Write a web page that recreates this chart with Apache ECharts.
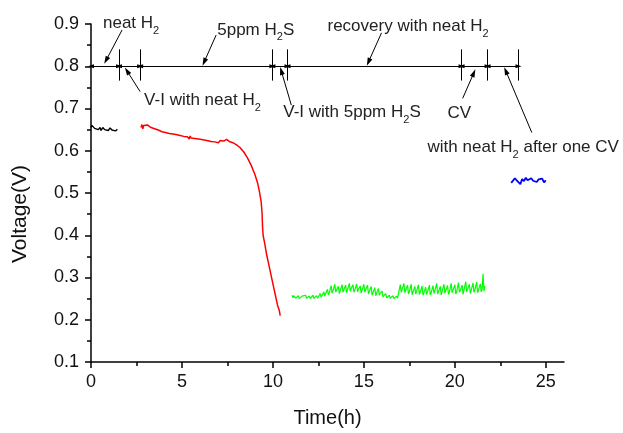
<!DOCTYPE html>
<html><head><meta charset="utf-8">
<script src="https://cdn.jsdelivr.net/npm/echarts@6/dist/echarts.min.js"></script>
<style>html,body{margin:0;padding:0;background:#fff}#c{width:623px;height:433px}</style>
</head><body><div id="c"></div>
<script>
// ---- axes ----
const xMajorTicks = [0, 5, 10, 15, 20, 25];
const xMinorTicks = [2.5, 7.5, 12.5, 17.5, 22.5];
const yMinorTicks = [0.15, 0.25, 0.35, 0.45, 0.55, 0.65, 0.75, 0.85];
const xRange = [0, 26];
const yRange = [0.1, 0.9];
const yStep = 0.1;

// ---- data: [time (h), voltage (V)] ----
const neatH2 = [[0,0.655],[0.05,0.66],[0.1,0.658],[0.2,0.653],[0.3,0.656],[0.4,0.65],[0.5,0.655],[0.55,0.648],[0.65,0.655],[0.75,0.65],[0.85,0.654],[0.95,0.648],[1.05,0.654],[1.15,0.649],[1.25,0.652],[1.35,0.647],[1.45,0.651]];
const withH2S = [[2.75,0.655],[2.8,0.662],[2.85,0.652],[2.9,0.66],[3.0,0.658],[3.1,0.661],[3.2,0.66],[3.3,0.655],[3.5,0.652],[3.6,0.648],[3.7,0.649],[3.9,0.645],[4.1,0.643],[4.3,0.641],[4.6,0.639],[4.9,0.636],[5.1,0.634],[5.3,0.633],[5.4,0.628],[5.45,0.635],[5.5,0.63],[5.7,0.629],[6.0,0.627],[6.3,0.625],[6.6,0.622],[6.8,0.621],[6.9,0.625],[7.0,0.619],[7.1,0.624],[7.2,0.62],[7.3,0.623],[7.45,0.627],[7.6,0.622],[7.8,0.619],[8.0,0.614],[8.2,0.607],[8.4,0.597],[8.6,0.583],[8.8,0.566],[9.0,0.545],[9.15,0.525],[9.25,0.505],[9.35,0.48],[9.4,0.455],[9.43,0.42],[9.46,0.4],[9.55,0.38],[9.65,0.355],[9.75,0.335],[9.85,0.315],[9.95,0.295],[10.05,0.275],[10.15,0.255],[10.25,0.235],[10.35,0.222],[10.4,0.21]];
const recovery = [[11.05,0.258],[11.1,0.252],[11.15,0.257],[11.2,0.259],[11.25,0.251],[11.3,0.253],[11.4,0.257],[11.45,0.25],[11.5,0.251],[11.6,0.256],[11.65,0.252],[11.7,0.254],[11.8,0.258],[11.85,0.251],[11.9,0.252],[12.0,0.256],[12.05,0.25],[12.1,0.253],[12.2,0.258],[12.25,0.251],[12.3,0.252],[12.4,0.257],[12.45,0.251],[12.5,0.254],[12.6,0.262],[12.65,0.253],[12.7,0.256],[12.8,0.266],[12.85,0.256],[12.9,0.262],[13.0,0.272],[13.05,0.259],[13.1,0.264],[13.2,0.281],[13.25,0.263],[13.3,0.268],[13.4,0.284],[13.45,0.266],[13.5,0.27],[13.6,0.279],[13.65,0.262],[13.7,0.266],[13.8,0.283],[13.85,0.265],[13.9,0.271],[14.0,0.282],[14.05,0.264],[14.1,0.268],[14.2,0.286],[14.25,0.267],[14.3,0.274],[14.4,0.283],[14.45,0.265],[14.5,0.27],[14.6,0.285],[14.65,0.266],[14.7,0.272],[14.8,0.28],[14.85,0.263],[14.9,0.267],[15.0,0.284],[15.05,0.265],[15.1,0.271],[15.2,0.282],[15.25,0.261],[15.3,0.265],[15.4,0.279],[15.45,0.258],[15.5,0.262],[15.6,0.276],[15.65,0.257],[15.7,0.26],[15.8,0.274],[15.85,0.258],[15.9,0.263],[16.0,0.268],[16.05,0.254],[16.1,0.258],[16.2,0.262],[16.25,0.252],[16.3,0.255],[16.4,0.258],[16.45,0.251],[16.5,0.253],[16.6,0.257],[16.65,0.25],[16.7,0.254],[16.8,0.256],[16.85,0.251],[16.9,0.262],[17.0,0.283],[17.05,0.265],[17.1,0.272],[17.2,0.286],[17.25,0.264],[17.3,0.27],[17.4,0.282],[17.45,0.261],[17.5,0.266],[17.6,0.284],[17.65,0.259],[17.7,0.262],[17.8,0.279],[17.85,0.261],[17.9,0.268],[18.0,0.283],[18.05,0.26],[18.1,0.265],[18.2,0.28],[18.25,0.258],[18.3,0.261],[18.4,0.277],[18.45,0.26],[18.5,0.266],[18.6,0.282],[18.65,0.259],[18.7,0.264],[18.8,0.281],[18.85,0.262],[18.9,0.268],[19.0,0.286],[19.05,0.261],[19.1,0.266],[19.2,0.279],[19.25,0.259],[19.3,0.262],[19.4,0.284],[19.45,0.263],[19.5,0.269],[19.6,0.281],[19.65,0.26],[19.7,0.265],[19.8,0.286],[19.85,0.264],[19.9,0.27],[20.0,0.283],[20.05,0.261],[20.1,0.266],[20.2,0.288],[20.25,0.265],[20.3,0.27],[20.4,0.282],[20.45,0.26],[20.5,0.264],[20.6,0.29],[20.65,0.266],[20.7,0.272],[20.8,0.284],[20.85,0.262],[20.9,0.266],[21.0,0.287],[21.05,0.265],[21.1,0.27],[21.2,0.289],[21.25,0.264],[21.3,0.268],[21.4,0.285],[21.45,0.266],[21.5,0.272],[21.55,0.309],[21.6,0.268],[21.65,0.28]];
const afterCV = [[23.1,0.524],[23.2,0.522],[23.3,0.535],[23.4,0.53],[23.5,0.526],[23.6,0.521],[23.7,0.533],[23.8,0.528],[23.9,0.536],[24.0,0.53],[24.1,0.527],[24.2,0.535],[24.3,0.529],[24.4,0.533],[24.5,0.526],[24.6,0.532],[24.7,0.528],[24.8,0.534],[24.9,0.525],[25.0,0.53]];

// ---- stage annotation (time boundaries, in h) ----
const stageBounds = [0, 1.54, 2.7, 9.97, 10.8, 20.37, 21.8, 23.5];
const stageLevel = 0.8;
const stageBar = [0.766, 0.84];

// ---- annotation labels: text, text anchor (data), arrow from, arrow to (data) ----
const annotations = [
  {text: 'neat H{s|2}',                  at: [0.66, 0.902],  from: [1.71, 0.886], to: [0.83, 0.814]},
  {text: '5ppm H{s|2}S',                 at: [6.94, 0.886],  from: [6.88, 0.874], to: [6.22, 0.810]},
  {text: 'V-I with neat H{s|2}',         at: [2.92, 0.720],  from: [2.70, 0.740], to: [1.98, 0.789]},
  {text: 'V-I with 5ppm H{s|2}S',        at: [10.57, 0.691], from: [11.01, 0.708], to: [10.46, 0.789]},
  {text: 'recovery with neat H{s|2}',    at: [13.0, 0.895],  from: [15.97, 0.879], to: [15.25, 0.810]},
  {text: 'CV',                           at: [19.6, 0.689],  from: [20.43, 0.724], to: [21.04, 0.784]},
  {text: 'with neat H{s|2} after one CV',at: [18.5, 0.608],  from: [24.23, 0.643], to: [22.80, 0.789]}
];

const FONT = '"Liberation Sans", Arial, Helvetica, sans-serif';
const chart = echarts.init(document.getElementById('c'));

const spans = [];
for (let i = 0; i < stageBounds.length - 1; i++) {
  spans.push([{coord: [stageBounds[i], stageLevel]}, {coord: [stageBounds[i + 1], stageLevel]}]);
}
const bars = stageBounds.slice(1).map(t => [{coord: [t, stageBar[0]]}, {coord: [t, stageBar[1]]}]);
const pointers = annotations.map(a => [{coord: a.from}, {coord: a.to}]);

function lineSeries(name, data, color, width) {
  return {name, type: 'line', data, showSymbol: false, symbol: 'none', silent: true,
    lineStyle: {color, width}, xAxisIndex: 0, yAxisIndex: 0};
}
function markerSeries(name, data, symbol, size) {
  return {name, type: 'line', data: [], silent: true, xAxisIndex: 0, yAxisIndex: 0,
    markLine: {silent: true, symbol, symbolSize: size, animation: false,
      label: {show: false}, emphasis: {disabled: true},
      lineStyle: {color: '#000', width: 1, type: 'solid'}, data}};
}

const tickStyle = {color: '#000', width: 1.5};

chart.setOption({
  animation: false,
  backgroundColor: '#fff',
  grid: {left: 91, right: 59, top: 24, bottom: 64, containLabel: false},
  xAxis: [
    {
      type: 'value', min: xRange[0], max: xRange[1], interval: 5, position: 'bottom',
      axisLine: {show: true, lineStyle: {color: '#000', width: 1.5}}, splitLine: {show: false},
      axisTick: {show: true, inside: false, length: 6, lineStyle: tickStyle, customValues: xMajorTicks},
      axisLabel: {customValues: xMajorTicks, margin: 11, color: '#111', fontSize: 18, fontFamily: FONT},
      name: 'Time(h)', nameLocation: 'middle', nameGap: 46,
      nameTextStyle: {color: '#111', fontSize: 20, fontFamily: FONT}
    },
    {
      type: 'value', min: xRange[0], max: xRange[1], interval: 5, position: 'bottom',
      axisLine: {show: false}, splitLine: {show: false}, axisLabel: {show: false},
      axisTick: {show: true, inside: false, length: 4, lineStyle: tickStyle, customValues: xMinorTicks}
    }
  ],
  yAxis: [
    {
      type: 'value', min: yRange[0], max: yRange[1], interval: yStep, position: 'left',
      axisLine: {show: true, lineStyle: {color: '#000', width: 1.5}}, splitLine: {show: false},
      axisTick: {show: true, inside: false, length: 6, lineStyle: tickStyle},
      axisLabel: {margin: 12, color: '#111', fontSize: 18, fontFamily: FONT, formatter: v => v.toFixed(1)}
    },
    {
      type: 'value', min: yRange[0], max: yRange[1], interval: yStep, position: 'left',
      axisLine: {show: false}, splitLine: {show: false}, axisLabel: {show: false},
      axisTick: {show: true, inside: false, length: 4, lineStyle: tickStyle, customValues: yMinorTicks}
    }
  ],
  series: [
    lineSeries('neat H2', neatH2, '#000000', 1.4),
    lineSeries('5ppm H2S', withH2S, '#ff0000', 1.5),
    lineSeries('recovery', recovery, '#00ff00', 1.2),
    lineSeries('after CV', afterCV, '#0000ff', 1.8),
    markerSeries('spans', spans, ['triangle', 'triangle'], [4, 6]),
    markerSeries('bars', bars, ['none', 'none'], 0),
    markerSeries('pointers', pointers, ['none', 'triangle'], [5, 8])
  ]
});

const graphics = annotations.map(a => {
  const p = chart.convertToPixel({gridIndex: 0}, a.at);
  return {type: 'text', x: p[0], y: p[1], silent: true,
    style: {text: a.text, fill: '#222', fontSize: 17, fontFamily: FONT, lineHeight: 26,
      align: 'left', verticalAlign: 'middle',
      rich: {s: {fontSize: 11, fontFamily: FONT, fill: '#222', lineHeight: 11, verticalAlign: 'bottom'}}}};
});
graphics.push({type: 'text', x: 20, y: 214, rotation: Math.PI / 2, silent: true,
  style: {text: 'Voltage(V)', fill: '#111', fontSize: 21, fontFamily: FONT, align: 'center', verticalAlign: 'middle'}});
chart.setOption({graphic: graphics});
</script>
</body></html>
